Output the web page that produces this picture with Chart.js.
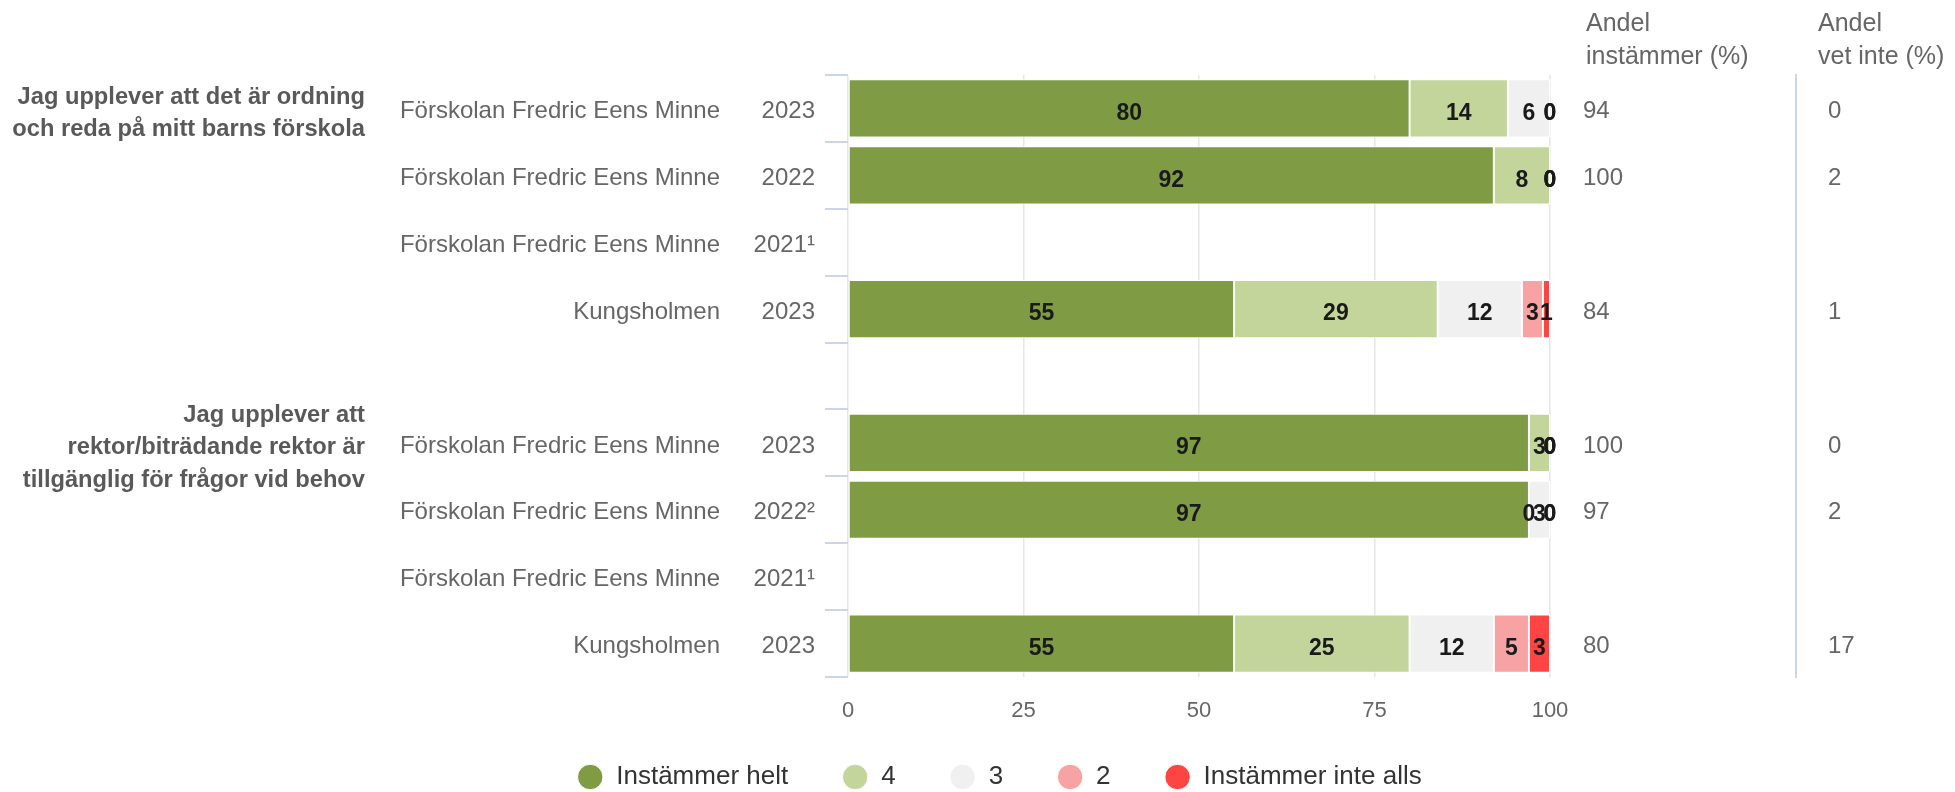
<!DOCTYPE html>
<html>
<head>
<meta charset="utf-8">
<style>
  html, body { margin: 0; padding: 0; background: #ffffff; }
  #wrap { width: 1955px; height: 792px; }
</style>
<script src="https://cdn.jsdelivr.net/npm/chart.js@4.4.1/dist/chart.umd.min.js"></script>
</head>
<body>
<div id="wrap"><canvas id="c" width="1955" height="792"></canvas></div>
<script>
// ---------- data ----------
const years = ['2023', '2022', '2021¹', '2023', '', '2023', '2022²', '2021¹', '2023'];
const units = [
  'Förskolan Fredric Eens Minne', 'Förskolan Fredric Eens Minne', 'Förskolan Fredric Eens Minne', 'Kungsholmen',
  '',
  'Förskolan Fredric Eens Minne', 'Förskolan Fredric Eens Minne', 'Förskolan Fredric Eens Minne', 'Kungsholmen'
];
const questions = [
  ['Jag upplever att det är ordning', 'och reda på mitt barns förskola'], '', '', '', '',
  ['Jag upplever att', 'rektor/biträdande rektor är', 'tillgänglig för frågor vid behov'], '', '', ''
];
const seriesNames = ['Instämmer helt', '4', '3', '2', 'Instämmer inte alls'];
const instammerHelt = [80, 92, null, 55, null, 97, 97, null, 55];
const svar4 = [14, 8, null, 29, null, 3, 0, null, 25];
const svar3 = [6, 0, null, 12, null, 0, 3, null, 12];
const svar2 = [0, 0, null, 3, null, 0, 0, null, 5];
const instammerInteAlls = [0, 0, null, 1, null, 0, 0, null, 3];
const andelInstammer = ['94', '100', '', '84', '', '100', '97', '', '80'];
const andelVetInte = ['0', '2', '', '1', '', '0', '2', '', '17'];
const headerInstammer = ['Andel', 'instämmer (%)'];
const headerVetInte = ['Andel', 'vet inte (%)'];
const xTickValues = [0, 25, 50, 75, 100];

const seriesColors = ['#7f9c44', '#c3d59b', '#f0f0f0', '#f8a3a3', '#ff4444'];
const FONT = '"Liberation Sans", Arial, Helvetica, sans-serif';

// ---------- plugins ----------
const valueLabels = {
  id: 'valueLabels',
  afterDatasetsDraw(chart) {
    const ctx = chart.ctx;
    ctx.save();
    ctx.font = 'bold 23px ' + FONT;
    ctx.fillStyle = '#1a1a1a';
    ctx.textAlign = 'center';
    ctx.textBaseline = 'middle';
    chart.data.datasets.forEach((ds, di) => {
      const meta = chart.getDatasetMeta(di);
      meta.data.forEach((el, i) => {
        const v = ds.data[i];
        if (v === null || v === undefined) return;
        const p = el.getCenterPoint();
        ctx.fillText(String(v), p.x, p.y + 5);
      });
    });
    ctx.restore();
  }
};

const columnHeaders = {
  id: 'columnHeaders',
  afterDraw(chart) {
    const ctx = chart.ctx;
    const s = chart.scales;
    ctx.save();
    ctx.font = '25px ' + FONT;
    ctx.fillStyle = '#666666';
    ctx.textAlign = 'left';
    ctx.textBaseline = 'alphabetic';
    headerInstammer.forEach((t, i) => ctx.fillText(t, s.yInst.left + 36, 31 + i * 33));
    headerVetInte.forEach((t, i) => ctx.fillText(t, s.yVet.left + 22, 31 + i * 33));
    ctx.restore();
  }
};

// centre the legend under the reference position and place it at the bottom band
const legendPlacement = {
  id: 'legendPlacement',
  afterLayout(chart) {
    const lg = chart.legend;
    if (!lg) return;
    lg.left += 22;
    lg.right += 22;
    lg.top = 764 - lg.options.labels.padding;
  }
};

// ---------- chart ----------
const seriesData = [instammerHelt, svar4, svar3, svar2, instammerInteAlls];
const datasets = seriesNames.map((name, i) => ({
  label: name,
  data: seriesData[i],
  backgroundColor: seriesColors[i],
  borderColor: '#ffffff',
  borderWidth: 1,
  borderSkipped: false,
  categoryPercentage: 1,
  barPercentage: 0.87
}));

const noGrid = { display: false, drawTicks: false };

new Chart(document.getElementById('c'), {
  type: 'bar',
  data: { labels: years, datasets },
  options: {
    indexAxis: 'y',
    responsive: false,
    animation: false,
    devicePixelRatio: 1,
    layout: { padding: { left: 0, right: 0, top: 75, bottom: 0 } },
    plugins: {
      tooltip: { enabled: false },
      legend: {
        position: 'bottom',
        maxHeight: 67,
        labels: {
          usePointStyle: true,
          pointStyle: 'circle',
          boxWidth: 26,
          boxHeight: 18,
          padding: 54,
          color: '#333333',
          font: { family: FONT, size: 26 }
        }
      }
    },
    scales: {
      x: {
        stacked: true,
        min: 0,
        max: 100,
        afterBuildTicks: (scale) => { scale.ticks = xTickValues.map(v => ({ value: v })); },
        afterFit: (scale) => { scale.height = 48; },
        grid: { color: '#e6e6e6', lineWidth: 1.5, drawTicks: false },
        border: { display: false },
        ticks: { color: '#666666', padding: 21, font: { family: FONT, size: 22 } }
      },
      y: {
        stacked: true,
        position: 'left',
        weight: 0,
        offset: true,
        afterFit: (scale) => { scale.width = 108; },
        grid: { offset: true, drawOnChartArea: false, drawTicks: true, tickLength: 23, color: '#ccd6eb', lineWidth: 2 },
        border: { display: false },
        ticks: { autoSkip: false, color: '#666666', padding: 10, labelOffset: 3, font: { family: FONT, size: 24 } }
      },
      yName: {
        type: 'category',
        labels: units,
        position: 'left',
        weight: 1,
        offset: true,
        afterFit: (scale) => { scale.width = 370; },
        grid: noGrid,
        border: { display: false },
        ticks: { autoSkip: false, color: '#666666', padding: 20, labelOffset: 3, font: { family: FONT, size: 24 } }
      },
      yGroup: {
        type: 'category',
        labels: questions,
        position: 'left',
        weight: 2,
        offset: true,
        afterFit: (scale) => { scale.width = 370; },
        grid: noGrid,
        border: { display: false },
        ticks: { autoSkip: false, color: '#595959', padding: 5, labelOffset: 5, font: { family: FONT, size: 23.7, weight: 'bold', lineHeight: 1.37 } }
      },
      yInst: {
        type: 'category',
        labels: andelInstammer,
        position: 'right',
        weight: 1,
        offset: true,
        afterFit: (scale) => { scale.width = 246; },
        grid: noGrid,
        border: { display: false },
        ticks: { autoSkip: false, color: '#666666', padding: 33, labelOffset: 3, font: { family: FONT, size: 24 } }
      },
      yVet: {
        type: 'category',
        labels: andelVetInte,
        position: 'right',
        weight: 2,
        offset: true,
        afterFit: (scale) => { scale.width = 159; },
        grid: noGrid,
        border: { display: true, color: '#ccd6eb', width: 2 },
        ticks: { autoSkip: false, color: '#666666', padding: 32, labelOffset: 3, font: { family: FONT, size: 24 } }
      }
    }
  },
  plugins: [valueLabels, columnHeaders, legendPlacement]
});
</script>
</body>
</html>
